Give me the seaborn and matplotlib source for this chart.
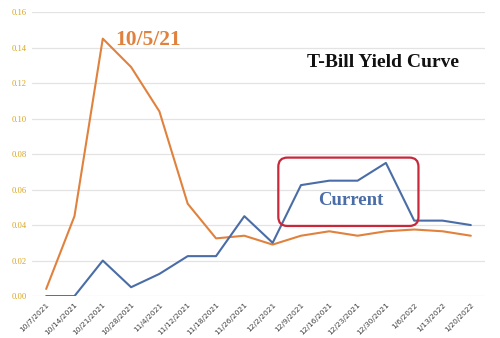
import matplotlib
matplotlib.use("Agg")
import matplotlib.pyplot as plt
from matplotlib.patches import FancyBboxPatch
import seaborn as sns
import pandas as pd

dates = ["10/7/2021", "10/14/2021", "10/21/2021", "10/28/2021", "11/4/2021",
         "11/12/2021", "11/18/2021", "11/26/2021", "12/2/2021", "12/9/2021",
         "12/16/2021", "12/23/2021", "12/30/2021", "1/6/2022", "1/13/2022",
         "1/20/2022"]
curve_oct = [0.004, 0.045, 0.145, 0.129, 0.104, 0.052, 0.0325, 0.034, 0.029,
             0.034, 0.0365, 0.034, 0.0365, 0.0375, 0.0365, 0.034]
curve_now = [0.0, 0.0, 0.020, 0.005, 0.0125, 0.0225, 0.0225, 0.045, 0.030,
             0.0625, 0.065, 0.065, 0.075, 0.0425, 0.0425, 0.040]
yticks = [0.00, 0.02, 0.04, 0.06, 0.08, 0.10, 0.12, 0.14, 0.16]

ORANGE = "#E0823D"
BLUE = "#4A6DA7"
GOLD = "#D9A520"

sns.set_theme(style="white")
plt.rcParams["font.family"] = ["DejaVu Sans"]

df = pd.DataFrame({"date": dates, "oct": curve_oct, "now": curve_now})
df["pos"] = range(len(dates))

fig = plt.figure(figsize=(5.0, 3.38), dpi=100)
ax = fig.add_axes([0.064, 0.124, 0.906, 0.8405])

for v in yticks:
    ax.axhline(v, color="#E3E3E3", lw=0.9, zorder=0)

sns.lineplot(data=df, x="pos", y="oct", color=ORANGE, lw=1.5, ax=ax, zorder=3)
sns.lineplot(data=df, x="pos", y="now", color=BLUE, lw=1.5, ax=ax, zorder=3)

ax.set_xlim(-0.5, len(dates) - 0.5)
ax.set_ylim(0, 0.16)
ax.set_xticks(df["pos"])
ax.set_xticklabels(dates, rotation=45, ha="right", rotation_mode="anchor",
                   fontsize=5.4, color="#404040")
ax.set_yticks(yticks)
ax.set_yticklabels([f"{v:.2f}" for v in yticks], fontsize=6.2, color=GOLD,
                   family="Liberation Serif")
ax.tick_params(axis="both", length=0, pad=4)
ax.set_xlabel("")
ax.set_ylabel("")
for s in ax.spines.values():
    s.set_visible(False)

ax.text(3.6, 0.1445, "10/5/21", color=ORANGE, fontsize=15.5,
        family="Liberation Serif", fontweight="bold", ha="center", va="center")
ax.text(11.9, 0.1315, "T-Bill Yield Curve", color="#111111", fontsize=14,
        family="Liberation Serif", fontweight="bold", ha="center", va="center")
ax.text(10.75, 0.0538, "Current", color=BLUE, fontsize=13.5,
        family="Liberation Serif", fontweight="bold", ha="center", va="center",
        zorder=5)

box = FancyBboxPatch((8.2, 0.0395), 4.95, 0.0385,
                     boxstyle="round,pad=0,rounding_size=0.32",
                     mutation_aspect=0.0045 / 0.28,
                     fill=False, edgecolor="#C8283A", lw=1.6, zorder=4)
ax.add_patch(box)

fig.savefig("out.png", dpi=100, facecolor="white")
